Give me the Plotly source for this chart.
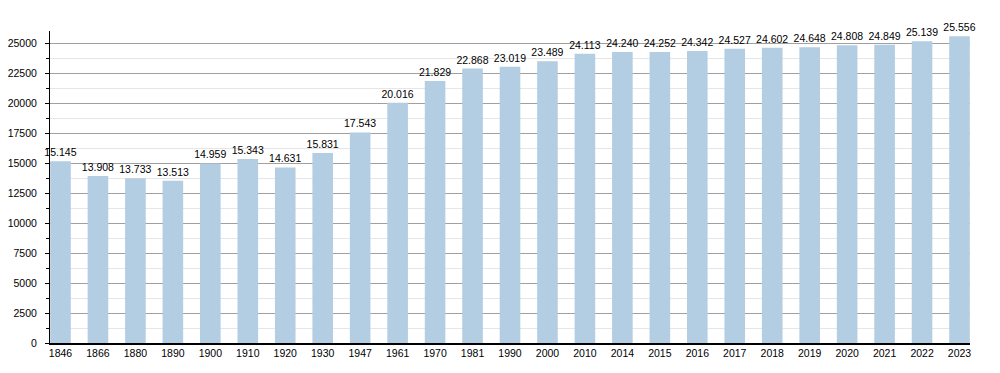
import plotly.graph_objects as go

years = ["1846", "1866", "1880", "1890", "1900", "1910", "1920", "1930", "1947", "1961",
         "1970", "1981", "1990", "2000", "2010", "2014", "2015", "2016", "2017", "2018",
         "2019", "2020", "2021", "2022", "2023"]
population = [15145, 13908, 13733, 13513, 14959, 15343, 14631, 15831, 17543, 20016,
              21829, 22868, 23019, 23489, 24113, 24240, 24252, 24342, 24527, 24602,
              24648, 24808, 24849, 25139, 25556]
y_ticks = [0, 2500, 5000, 7500, 10000, 12500, 15000, 17500, 20000, 22500, 25000]
y_tick_text = [str(v) for v in y_ticks]

labels = [f"{v:,}".replace(",", ".") for v in population]

fig = go.Figure(go.Bar(
    x=years, y=population, text=labels, textposition="outside",
    textfont=dict(size=10.5, color="#000000", family="Liberation Sans, Arial, sans-serif"),
    constraintext="none",
    marker=dict(color="#b3cde3", line=dict(width=0)),
    width=0.55, cliponaxis=False, hoverinfo="x+y",
))

fig.update_layout(
    width=1000, height=373,
    margin=dict(l=42, r=38, t=23, b=38, autoexpand=False),
    plot_bgcolor="white", paper_bgcolor="white",
    font=dict(family="Liberation Sans, Arial, sans-serif", size=10.5, color="#000000"),
    showlegend=False,
    xaxis=dict(
        type="category", range=[-0.28, 24.28], showgrid=False, automargin=False,
        showline=True, linecolor="#000000", linewidth=1.5, ticks="",
        tickfont=dict(size=10.5),
    ),
    yaxis=dict(
        range=[0, 26000], tickvals=y_ticks, ticktext=y_tick_text, showgrid=True,
        gridcolor="#a0a0a0", automargin=False,
        gridwidth=1, zeroline=False, showline=True, linecolor="#000000", linewidth=1,
        ticks="outside", ticklen=4, tickcolor="#000000", tickfont=dict(size=10.5),
        minor=dict(dtick=1250, tick0=0, showgrid=True, gridcolor="#e6e6e6",
                   ticks="outside", ticklen=3, tickcolor="#000000"),
        ticklabelstandoff=6,
    ),
)

fig.write_html("out.html")
